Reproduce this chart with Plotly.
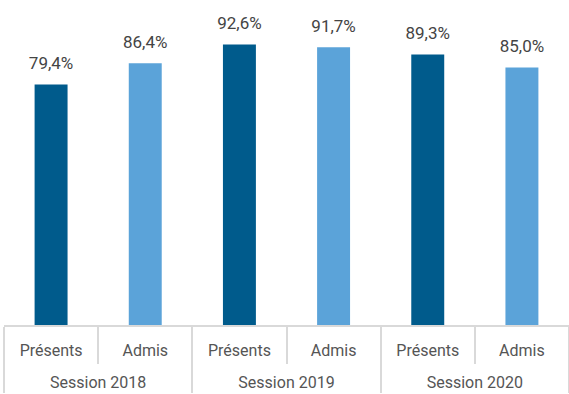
import plotly.graph_objects as go

sessions = ["Session 2018", "Session 2018", "Session 2019", "Session 2019", "Session 2020", "Session 2020"]
groups = ["Présents", "Admis", "Présents", "Admis", "Présents", "Admis"]
values = [79.4, 86.4, 92.6, 91.7, 89.3, 85.0]
colors = ["#005b8c", "#5ba3d9", "#005b8c", "#5ba3d9", "#005b8c", "#5ba3d9"]

FONT = "Roboto, sans-serif"

# leading line break pushes the session row further down, like the reference
session_ticks = ["<br>" + s for s in sessions]

fig = go.Figure()
fig.add_trace(go.Bar(
    x=[session_ticks, groups], y=values,
    marker=dict(color=colors, line_width=0),
    hoverinfo="skip",
))
# value labels, lifted a little above the bars
fig.add_trace(go.Scatter(
    x=[session_ticks, groups], y=values,
    mode="markers+text",
    marker=dict(size=16, color="rgba(0,0,0,0)"),
    texttemplate="%{y:.1f}%", textposition="top center",
    textfont=dict(family=FONT, size=17, color="#444444"),
    cliponaxis=False, hoverinfo="skip",
))

fig.update_layout(
    width=569, height=394,
    margin=dict(l=4, r=0, t=22, b=69),
    paper_bgcolor="white", plot_bgcolor="white",
    separators=", ",
    bargap=0.65,
    showlegend=False,
    font=dict(family=FONT, size=16, color="#555555"),
)
fig.update_xaxes(
    type="multicategory",
    showline=True, linecolor="#d9d9d9", linewidth=2,
    ticks="outside", tickson="boundaries", ticklen=37, tickcolor="#d9d9d9", tickwidth=2,
    dividercolor="#d9d9d9", dividerwidth=2,
    ticklabelstandoff=10,
    tickfont=dict(family=FONT, size=16, color="#555555"),
    automargin=False,
)
fig.update_yaxes(range=[0, 100], visible=False, showgrid=False)

fig.write_html("out.html", config={"displayModeBar": False},
               post_script="document.body.style.margin='0';")
